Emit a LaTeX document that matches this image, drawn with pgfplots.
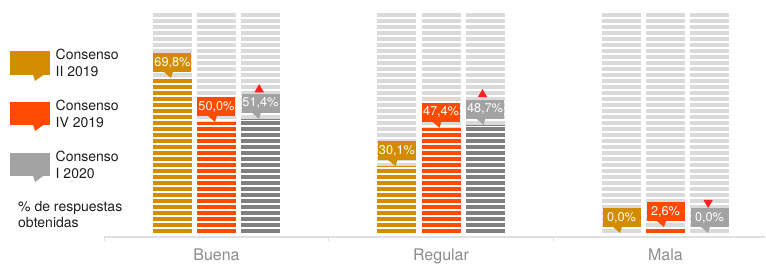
\documentclass[border=0pt]{standalone}
\usepackage{pgfplots}
\pgfplotsset{compat=1.18}
\usepackage{pgfplotstable}
\usepackage{fontspec}
\setmainfont{TeX Gyre Heros}
\definecolor{cgold}{HTML}{D38B00}
\definecolor{corange}{HTML}{FF4B00}
\definecolor{cgray}{HTML}{808080}
\definecolor{cgraylab}{HTML}{A3A3A3}
\definecolor{cbg}{HTML}{DADADA}
\definecolor{cred}{HTML}{FF2020}
\definecolor{caxis}{HTML}{E0E0E0}
\definecolor{ctick}{HTML}{8C8C8C}
\definecolor{ctext}{HTML}{1E1E1E}

\pgfdeclareplotmark{tail}{%
  \pgfpathmoveto{\pgfpoint{-9pt}{6.5pt}}%
  \pgfpathlineto{\pgfpoint{0.5pt}{6.5pt}}%
  \pgfpathlineto{\pgfpoint{-1.5pt}{0pt}}%
  \pgfpathclose\pgfusepathqfill}

\pgfplotstableread{
x y lab
-0.196 69.8 69,8
0.804 30.1 30,1
1.804 0.0 0,0
}\gold
\pgfplotstableread{
x y lab
0 50.0 50,0
1 47.4 47,4
2 2.6 2,6
}\orange
\pgfplotstableread{
x y lab
0.196 51.4 51,4
1.196 48.7 48,7
2.196 0.0 0,0
}\grey

\begin{document}
\begin{tikzpicture}[font=\fontsize{14}{16}\selectfont]
\useasboundingbox (0,0) rectangle (766pt,264pt);
% legend
\fill[cgold] (10pt,189pt) rectangle (50pt,213pt);
\fill[cgold] (33pt,189.5pt) -- (44pt,189.5pt) -- (35pt,183pt) -- cycle;
\fill[corange] (10pt,139pt) rectangle (50pt,162pt);
\fill[corange] (33pt,139.5pt) -- (44pt,139.5pt) -- (35pt,133pt) -- cycle;
\fill[cgraylab] (10pt,88pt) rectangle (50pt,111pt);
\fill[cgraylab] (33pt,88.5pt) -- (44pt,88.5pt) -- (35pt,82pt) -- cycle;
\node[anchor=base west, inner sep=0pt, text=ctext] at (55.5pt,204pt) {Consenso};
\node[anchor=base west, inner sep=0pt, text=ctext] at (55.5pt,187pt) {II 2019};
\node[anchor=base west, inner sep=0pt, text=ctext] at (55.5pt,153pt) {Consenso};
\node[anchor=base west, inner sep=0pt, text=ctext] at (55.5pt,136pt) {IV 2019};
\node[anchor=base west, inner sep=0pt, text=ctext] at (55.5pt,102pt) {Consenso};
\node[anchor=base west, inner sep=0pt, text=ctext] at (55.5pt,85pt) {I 2020};
\node[anchor=base west, inner sep=0pt, text=ctext] at (18pt,52pt) {\% de respuestas};
\node[anchor=base west, inner sep=0pt, text=ctext] at (18pt,36pt) {obtenidas};

\begin{axis}[at={(104pt,31pt)}, anchor=south west, scale only axis,
  width=661pt, height=222pt,
  xmin=-0.5011, xmax=2.4432, ymin=0, ymax=100,
  axis y line=none, axis x line*=bottom, axis x line shift=4pt,
  axis line style={draw=caxis, line width=1.2pt},
  xtick={0,1,2}, xticklabels={Buena,Regular,Mala},
  major tick length=0pt,
  extra x ticks={-0.5,0.5,1.5}, extra x tick labels={},
  extra x tick style={major tick length=4pt, tick align=outside, major tick style={draw=caxis, line width=1.2pt}},
  xticklabel style={font=\fontsize{16}{18}\selectfont, text=ctick, anchor=base, yshift=-24pt},
  clip=false,
  every node near coord/.style={rectangle, text=white, font=\fontsize{12.7}{14}\selectfont,
    minimum width=38pt, minimum height=18.5pt, inner sep=0pt, anchor=center, yshift=15.5pt},
  bar/.style={ycomb, line width=39pt, dash pattern=on 3.5pt off 2.5pt},
  tailmark/.style={only marks, mark=tail, mark options={solid, fill=#1, draw=none}},
]
\addplot[bar, draw=cbg] coordinates {(-0.196,100) (0,100) (0.196,100) (0.804,100) (1,100) (1.196,100) (1.804,100) (2,100) (2.196,100)};
\addplot[bar, draw=cgold] table[x=x,y=y]{\gold};
\addplot[bar, draw=corange] table[x=x,y=y]{\orange};
\addplot[bar, draw=cgray] table[x=x,y=y]{\grey};
\addplot[tailmark=cgold] table[x=x,y=y]{\gold};
\addplot[tailmark=corange] table[x=x,y=y]{\orange};
\addplot[tailmark=cgraylab] table[x=x,y=y]{\grey};
\addplot[draw=none, point meta=explicit symbolic, nodes near coords={\pgfplotspointmeta\%},
  every node near coord/.append style={fill=cgold}] table[x=x,y=y,meta=lab]{\gold};
\addplot[draw=none, point meta=explicit symbolic, nodes near coords={\pgfplotspointmeta\%},
  every node near coord/.append style={fill=corange}] table[x=x,y=y,meta=lab]{\orange};
\addplot[draw=none, point meta=explicit symbolic, nodes near coords={\pgfplotspointmeta\%},
  every node near coord/.append style={fill=cgraylab}] table[x=x,y=y,meta=lab]{\grey};
\addplot[only marks, mark=triangle*, mark size=5pt, color=cred] coordinates {(0.19,64.6) (1.185,62.4)};
\addplot[only marks, mark=triangle*, mark size=5pt, color=cred, mark options={rotate=180}] coordinates {(2.19,13.7)};
\end{axis}
\end{tikzpicture}
\end{document}
